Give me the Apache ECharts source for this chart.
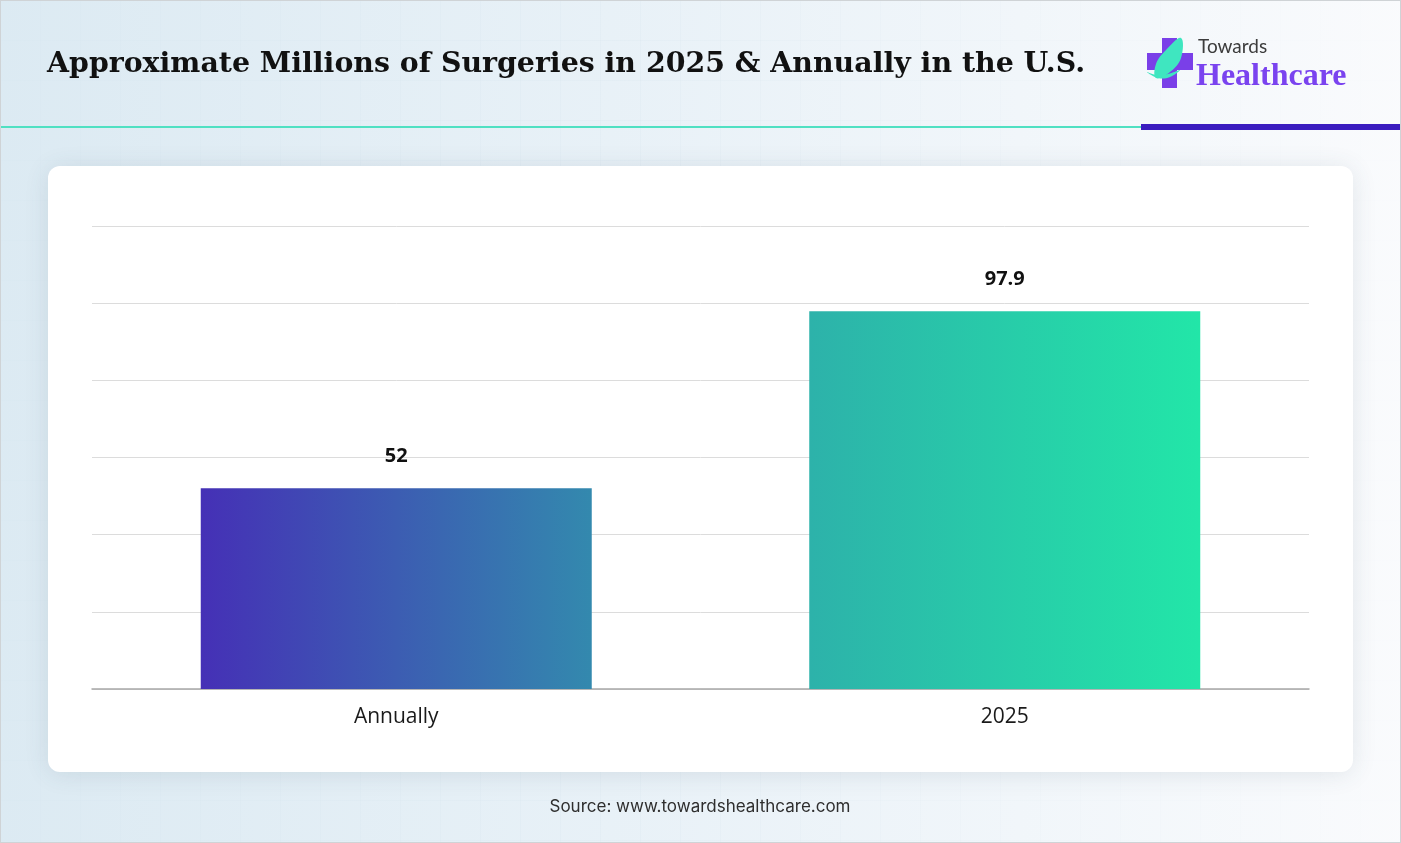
<!DOCTYPE html>
<html>
<head>
<meta charset="utf-8">
<script src="https://cdn.jsdelivr.net/npm/echarts@6/dist/echarts.min.js"></script>
<style>
  html, body { margin: 0; padding: 0; }
  body {
    width: 1401px; height: 843px; overflow: hidden; position: relative;
    background-color: #eef4f8;
    background-image:
      linear-gradient(90deg, rgba(218,233,242,0.9) 0%, rgba(230,240,247,0.7) 45%, rgba(250,251,253,0.95) 100%),
      linear-gradient(rgba(180,200,215,0.25) 1px, transparent 1px),
      linear-gradient(90deg, rgba(180,200,215,0.25) 1px, transparent 1px);
    background-size: 100% 100%, 40px 40px, 40px 40px;
  }
  #frame { position: absolute; left: 0; top: 0; width: 1399px; height: 841px; border: 1px solid #cfd3d6; pointer-events: none; }
  #chart { position: absolute; left: 0; top: 0; width: 1401px; height: 843px; }
</style>
</head>
<body>
<div id="chart"></div>
<div id="frame"></div>
<script>
const titleText = 'Approximate Millions of Surgeries in 2025 & Annually in the U.S.';
const sourceText = 'Source: www.towardshealthcare.com';
const categories = ['Annually', '2025'];
const values = [52, 97.9];
const yTicks = [0, 20, 40, 60, 80, 100, 120];
const barGradients = [
  ['#4530b6', '#3389ae'],
  ['#2db2aa', '#22e6a8']
];

const chart = echarts.init(document.getElementById('chart'), null, { renderer: 'canvas' });

const option = {
  backgroundColor: 'transparent',
  animation: false,
  graphic: [
    // card
    { type: 'rect', shape: { x: 48, y: 166, width: 1305, height: 606, r: 12 }, z: -10,
      style: { fill: '#ffffff', shadowBlur: 24, shadowColor: 'rgba(60,80,100,0.12)', shadowOffsetY: 2 } },
    // header lines
    { type: 'rect', shape: { x: 0, y: 126, width: 1141, height: 2 }, style: { fill: '#4fe0c2' } },
    { type: 'rect', shape: { x: 1141, y: 124, width: 260, height: 6 }, style: { fill: '#3a1cbf' } },
    // title
    { type: 'text', x: 47, y: 65,
      style: { text: titleText, font: 'bold 28.4px "DejaVu Serif"', fill: '#111', textVerticalAlign: 'middle', textBaseline: 'middle' } },
    // logo cross
    { type: 'rect', shape: { x: 1162, y: 38, width: 15, height: 50 }, style: { fill: '#7a3fe8' } },
    { type: 'rect', shape: { x: 1147, y: 53, width: 46, height: 17 }, style: { fill: '#7a3fe8' } },
    // leaf
    { type: 'polygon', shape: { smooth: 0.4, points: [[1181, 38], [1166, 50], [1156, 64], [1156, 78], [1170, 72], [1181, 58]] }, style: { fill: '#3fe6c0' } },
    { type: 'polygon', shape: { smooth: 0.4, points: [[1147, 72], [1158, 78], [1170, 77], [1180, 70], [1168, 74], [1157, 75]] }, style: { fill: '#3fe6c0' } },
    // logo text
    { type: 'text', x: 1198, y: 47,
      style: { text: 'Towards', font: '19px Lato, "Open Sans", sans-serif', fill: '#3c3c3c', textVerticalAlign: 'middle', textBaseline: 'middle' } },
    { type: 'text', x: 1196, y: 77,
      style: { text: 'Healthcare', font: 'bold 32px "Liberation Serif"', fill: '#7a43ef', textVerticalAlign: 'middle', textBaseline: 'middle' } },
    // source
    { type: 'text', x: 700, y: 807,
      style: { text: sourceText, font: '17px Inter, Roboto, sans-serif', fill: '#2e2e2e', textAlign: 'center', textVerticalAlign: 'middle', textBaseline: 'middle' } }
  ],
  grid: { left: 92, right: 92, top: 226, bottom: 154, containLabel: false },
  xAxis: {
    type: 'category',
    data: categories,
    axisLine: { show: true, lineStyle: { color: '#a8a8a8', width: 1.5 } },
    axisTick: { show: false },
    axisLabel: { fontSize: 21, color: '#1a1a1a', fontFamily: '"Open Sans", "Noto Sans", sans-serif', margin: 18 }
  },
  yAxis: {
    type: 'value',
    min: yTicks[0],
    max: yTicks[yTicks.length - 1],
    interval: yTicks[1] - yTicks[0],
    axisLabel: { show: false },
    axisLine: { show: false },
    axisTick: { show: false },
    splitLine: { show: true, lineStyle: { color: '#dcdcdc', width: 1 } }
  },
  series: [{
    type: 'bar',
    barWidth: 391,
    data: values.map((v, i) => ({
      value: v,
      itemStyle: {
        color: new echarts.graphic.LinearGradient(0, 0, 1, 0, [
          { offset: 0, color: barGradients[i][0] },
          { offset: 1, color: barGradients[i][1] }
        ])
      }
    })),
    label: {
      show: true, position: 'top', distance: 22,
      fontSize: 20, fontWeight: 'bold', color: '#111',
      fontFamily: '"Open Sans", "Noto Sans", sans-serif'
    }
  }]
};
chart.setOption(option);
</script>
</body>
</html>
